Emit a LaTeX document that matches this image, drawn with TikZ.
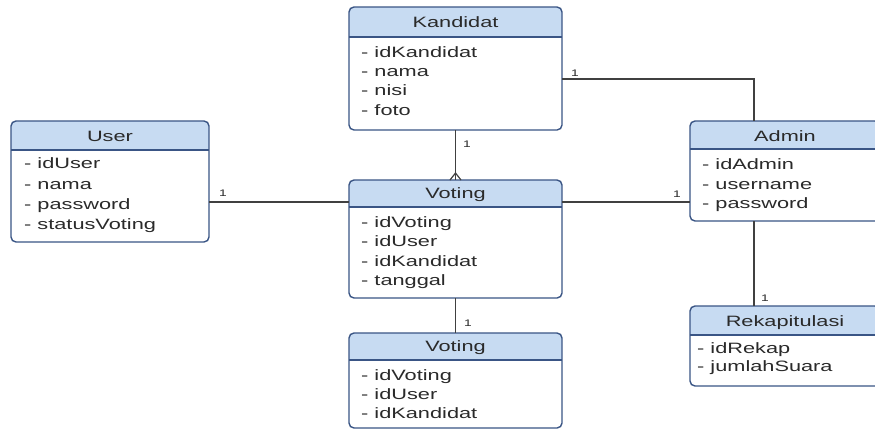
\documentclass[tikz,border=0pt]{standalone}
\usepackage{fontspec}
\usepackage{graphicx}
\setmainfont{Liberation Sans}
\usetikzlibrary{calc}
\definecolor{hdr}{HTML}{C7DBF2}
\definecolor{bord}{HTML}{3A5585}
\definecolor{txt}{HTML}{2A2A2A}
\definecolor{conn}{HTML}{404040}
\newcommand{\sx}[1]{\scalebox{1.45}[1]{#1}}
\newcommand{\umlclass}[8]{%
  \begin{scope}
    \clip[rounded corners=5pt] (#2,#3) rectangle (#4,#5);
    \fill[hdr] (#2,#3) rectangle (#4,#6);
  \end{scope}
  \draw[bord, line width=1.1pt] (#2,#6) -- (#4,#6);
  \node[cls, minimum width={#4-#2}, minimum height={#5-#3}] (#1) at (#2,#3) {};
  \node[ttl] (#1-title) at ({(#2+#4)/2},#7) {\sx{#8}};
}
\tikzset{
  cls/.style={draw=bord, line width=1.4pt, rounded corners=5pt, anchor=north west, inner sep=0pt, outer sep=0pt},
  row/.style={anchor=base west, inner sep=0pt, text=txt, font=\fontsize{15}{17}\selectfont},
  ttl/.style={anchor=base, inner sep=0pt, text=txt, font=\fontsize{15}{17}\selectfont},
  lnk/.style={draw=conn, line width=1.2pt},
  mult/.style={inner sep=0pt, text=txt, font=\fontsize{9.5}{10}\selectfont},
}
\begin{document}
\begin{tikzpicture}[x=1pt,y=-1pt]
\clip (0,0) rectangle (875,429);
\fill[white] (0,0) rectangle (875,429);

% Kandidat
\umlclass{kand}{349}{7}{562}{130}{37}{27}{Kandidat}
\node[row] (k1) at (361,57) {\sx{- idKandidat}};
\node[row] (k2) at (361,76) {\sx{- nama}};
\node[row] (k3) at (361,95) {\sx{- nisi}};
\node[row] (k4) at (361,115) {\sx{- foto}};

% User
\umlclass{user}{11}{121}{209}{242}{150}{141}{User}
\node[row] (u1) at (24,168) {\sx{- idUser}};
\node[row] (u2) at (24,189) {\sx{- nama}};
\node[row] (u3) at (24,209) {\sx{- password}};
\node[row] (u4) at (24,229) {\sx{- statusVoting}};

% Admin
\umlclass{adm}{690}{121}{880}{221}{149}{141}{Admin}
\node[row] (a1) at (702,169) {\sx{- idAdmin}};
\node[row] (a2) at (702,189) {\sx{- username}};
\node[row] (a3) at (702,208) {\sx{- password}};

% Voting
\umlclass{vot}{349}{180}{562}{298}{207}{198}{Voting}
\node[row] (v1) at (361,227) {\sx{- idVoting}};
\node[row] (v2) at (361,246) {\sx{- idUser}};
\node[row] (v3) at (361,266) {\sx{- idKandidat}};
\node[row] (v4) at (361,285) {\sx{- tanggal}};

% Voting (bottom)
\umlclass{vottwo}{349}{333}{562}{428}{360}{351}{Voting}
\node[row] (w1) at (361,380) {\sx{- idVoting}};
\node[row] (w2) at (361,399) {\sx{- idUser}};
\node[row] (w3) at (361,418) {\sx{- idKandidat}};

% Rekapitulasi
\umlclass{rek}{690}{306}{880}{386}{335}{326}{Rekapitulasi}
\node[row] (r1) at (697,353) {\sx{- idRekap}};
\node[row] (r2) at (697,371) {\sx{- jumlahSuara}};

% connectors
\draw[lnk] (kand.south) -- (vot.north);
\draw[lnk] ($(vot.north)+(-5.5,0)$) -- ($(vot.north)+(0,-7)$) -- ($(vot.north)+(5.5,0)$);
\draw[lnk] ($(kand.east)+(0,10.5)$) -| ($(adm.north west)+(64,0)$);
\coordinate (uv) at ($(vot.north west)+(0,22)$);
\draw[lnk] (user.east |- uv) -- (uv);
\draw[lnk] (vot.east |- uv) -- (adm.west |- uv);
\draw[lnk] (vot.south) -- (vottwo.north);
\draw[lnk] ($(adm.south west)+(64,0)$) -- ($(rek.north west)+(64,0)$);

% multiplicities
\node[mult] (m1) at (575,73) {\sx{1}};
\node[mult] (m2) at (467,144) {\sx{1}};
\node[mult] (m3) at (223,193) {\sx{1}};
\node[mult] (m4) at (677,194) {\sx{1}};
\node[mult] (m5) at (468,323) {\sx{1}};
\node[mult] (m6) at (765,298) {\sx{1}};
\end{tikzpicture}
\end{document}
